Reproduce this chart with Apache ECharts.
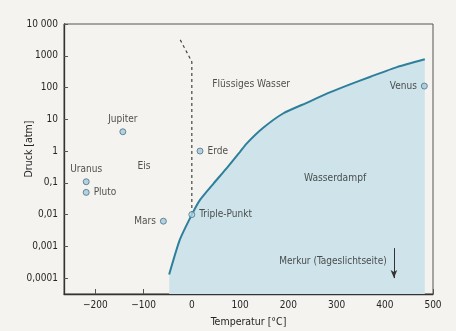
<!DOCTYPE html>
<html><head><meta charset="utf-8">
<script src="https://cdn.jsdelivr.net/npm/echarts@6/dist/echarts.min.js"></script>
<style>html,body{margin:0;padding:0;background:#f4f3ef}#c{width:456px;height:331px}</style>
</head><body><div id="c"></div>
<script>
// Vapor / sublimation curve [°C, atm]
const vaporCurve = [[-47,0.00013],[-25,0.0016],[0,0.01],[17,0.029],[45,0.095],[72,0.285],[100,0.95],[114,1.75],[148,5.4],[190,15.5],[238,33],[286,70],[328,126],[369,215],[425,440],[483,776]];
// Melting line (dashed)
const meltCurve = [[-24,3160],[0,650],[0,0.01]];
// Planets
const planetNames = ['Jupiter','Uranus','Pluto','Mars','Erde','Venus'];
const planetTemps = [-143,-219,-219,-59,17,482];
const planetPress = [4.05,0.108,0.050,0.0062,1.0,111];
const planetLabelPos = ['top','top','right','left','right','left'];
const triplePoint = [0,0.01];
// Region labels
const regionNames = ['Flüssiges Wasser','Eis','Wasserdampf'];
const regionTemps = [123,-99,297];
const regionPress = [129,0.336,0.141];
const merkurText = 'Merkur (Tageslichtseite)';
const merkurLabelAt = [405,0.000343];
const merkurArrow = [[419,0.00088],[419,0.0001]];
// Axis ticks
const xTicks = [-200,-100,0,100,200,300,400,500];
const xTickLabels = ['−200','−100','0','100','200','300','400','500'];
const yTicks = [0.0001,0.001,0.01,0.1,1,10,100,1000,10000];
const yTickLabels = ['0,0001','0,001','0,01','0,1','1','10','100','1000','10 000'];

const FONT = "'DejaVu Sans Condensed','Liberation Sans Narrow',sans-serif";
const TXT = '#262626';
const FS = 10;
const chart = echarts.init(document.getElementById('c'), null, {renderer:'canvas'});
chart.setOption({
  backgroundColor:'#f4f3ef',
  textStyle:{fontFamily:FONT, color:TXT},
  animation:false,
  grid:{left:64, top:24, right:23, bottom:37, show:true, borderColor:'#555', borderWidth:1, outerBoundsMode:'none', containLabel:false},
  xAxis:{type:'value', min:-265, max:500,
    name:'Temperatur [°C]', nameLocation:'middle', nameGap:23, nameMoveOverlap:false,
    nameTextStyle:{fontFamily:FONT, fontSize:10.5, color:TXT},
    axisLine:{onZero:false, lineStyle:{color:'#333', width:1.3}},
    axisTick:{inside:true, length:5, customValues:xTicks, lineStyle:{color:'#555'}},
    axisLabel:{customValues:xTicks, margin:6, fontSize:FS, color:TXT, fontFamily:FONT,
      formatter:v=>{const i=xTicks.indexOf(v);return i>=0?xTickLabels[i]:'';}},
    splitLine:{show:false}},
  yAxis:{type:'log', logBase:10, min:3.1623e-5, max:10000,
    name:'Druck [atm]', nameLocation:'middle', nameGap:29, nameRotate:90, nameMoveOverlap:false,
    nameTextStyle:{fontFamily:FONT, fontSize:10.5, color:TXT, padding:[0,0,0,20]},
    axisLine:{show:true, onZero:false, lineStyle:{color:'#333', width:1.3}},
    axisTick:{inside:true, length:4, customValues:yTicks, lineStyle:{color:'#555'}},
    axisLabel:{customValues:yTicks, margin:6, fontSize:FS, color:TXT, fontFamily:FONT,
      formatter:v=>{let best=-1,bd=1e9;yTicks.forEach((t,i)=>{const d=Math.abs(Math.log10(t)-Math.log10(v));if(d<bd){bd=d;best=i;}});return bd<0.01?yTickLabels[best]:'';}},
    splitLine:{show:false}, minorSplitLine:{show:false}},
  series:[
    {type:'line', data:vaporCurve, smooth:0.2, symbol:'none', z:2,
      lineStyle:{color:'#2e7f9b', width:2},
      areaStyle:{color:'#cfe4ea', opacity:1, origin:'start'}},
    {type:'line', data:meltCurve, symbol:'none', z:3,
      lineStyle:{color:'#444', width:1.2, type:[3,3]}},
    {type:'scatter', symbolSize:6, z:5,
      itemStyle:{color:'#a3c9dc', borderColor:'#4d7184', borderWidth:1},
      data:planetNames.map((n,i)=>({name:n, value:[planetTemps[i],planetPress[i]],
        label:{show:true, position:planetLabelPos[i], distance:4, formatter:n, fontSize:FS, color:TXT, fontFamily:FONT}}))},
    {type:'scatter', symbolSize:6, z:6,
      itemStyle:{color:'#b9d6e2', borderColor:'#3d7d92', borderWidth:1},
      data:[{name:'Triple-Punkt', value:triplePoint,
        label:{show:true, position:'right', distance:4, formatter:'Triple-Punkt', fontSize:FS, color:TXT, fontFamily:FONT}}]},
    {type:'scatter', symbolSize:1, z:4, silent:true,
      itemStyle:{color:'transparent'},
      data:regionNames.map((n,i)=>({name:n, value:[regionTemps[i],regionPress[i]],
        label:{show:true, position:'inside', formatter:n, fontSize:10.2, color:TXT, fontFamily:FONT}})).concat([
        {name:merkurText, value:merkurLabelAt, label:{show:true, position:'left', distance:0, formatter:merkurText, fontSize:FS, color:TXT, fontFamily:FONT}}]),
      markLine:{silent:true, symbol:['none','arrow'], symbolSize:[5,8], label:{show:false},
        lineStyle:{color:'#333', width:1, type:'solid'},
        data:[[{coord:merkurArrow[0]},{coord:merkurArrow[1]}]]}}
  ]
});
</script></body></html>
